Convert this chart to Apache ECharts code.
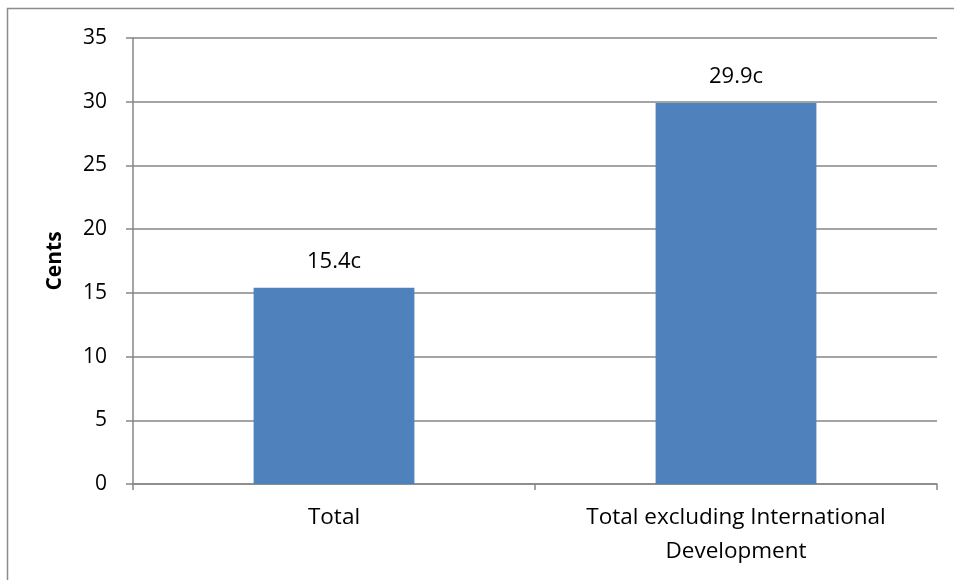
<!DOCTYPE html>
<html><head><meta charset="utf-8">
<script src="https://cdn.jsdelivr.net/npm/echarts@6/dist/echarts.min.js"></script>
<style>html,body{margin:0;padding:0;background:#fff}#c{width:954px;height:580px}</style>
</head><body><div id="c"></div>
<script>
const categories = ['Total', 'Total excluding International\nDevelopment'];
const values = [15.4, 29.9];
const labels = ['15.4c', '29.9c'];
const yTicks = [0, 5, 10, 15, 20, 25, 30, 35];
const yTitle = 'Cents';

const chart = echarts.init(document.getElementById('c'), null, {renderer: 'canvas'});
const font = 'Open Sans';
chart.setOption({
  animation: false,
  textStyle: {fontFamily: font},
  graphic: [{type: 'rect', shape: {x: 7.5, y: 8.5, width: 980, height: 620}, style: {fill: 'none', stroke: '#8c8c8c', lineWidth: 1.5}, silent: true}],
  grid: {left: 133, right: 17, top: 38, bottom: 96, containLabel: false},
  xAxis: {
    type: 'category', data: categories,
    axisLine: {lineStyle: {color: '#868686', width: 1.5}},
    axisTick: {show: true, length: 6, lineStyle: {color: '#868686', width: 1.5}},
    axisLabel: {color: '#000', fontSize: 22.5, fontFamily: font, margin: 17, lineHeight: 34}
  },
  yAxis: {
    type: 'value', min: 0, max: 35, interval: 5,
    name: yTitle, nameLocation: 'middle', nameGap: 67, nameRotate: 90,
    nameTextStyle: {color: '#000', fontSize: 21, fontWeight: 'bold', fontFamily: font},
    axisLine: {show: true, lineStyle: {color: '#868686', width: 1.5}},
    axisTick: {show: true, length: 7, lineStyle: {color: '#868686', width: 1.5}},
    splitLine: {lineStyle: {color: '#868686', width: 1.5}},
    axisLabel: {color: '#000', fontSize: 21, fontFamily: font, margin: 26,
      formatter: v => yTicks.includes(v) ? String(v) : ''}
  },
  series: [{
    type: 'bar', data: values, barWidth: '40%',
    itemStyle: {color: '#4F81BD'},
    label: {show: true, position: 'top', distance: 15, color: '#000', fontSize: 22, fontFamily: font,
      formatter: p => labels[p.dataIndex]}
  }]
});
</script></body></html>
